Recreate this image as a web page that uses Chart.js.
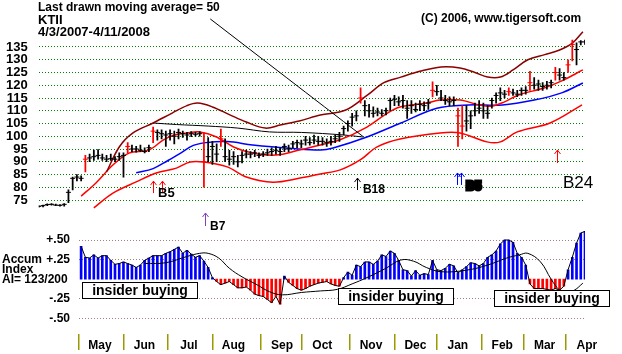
<!DOCTYPE html>
<html>
<head>
<meta charset="utf-8">
<script src="https://cdn.jsdelivr.net/npm/chart.js@4.4.1/dist/chart.umd.min.js"></script>
<style>
body { margin: 0; background: #fff; }
#wrap { position: relative; width: 622px; height: 354px; overflow: hidden; font-family: 'Liberation Sans', Arial, sans-serif; }
canvas { position: absolute; left: 0; top: 0; }
.t { position: absolute; font-weight: bold; color: #000; white-space: nowrap; }
.box { position: absolute; border: 1px solid #000; background: #fff; font-weight: bold; font-size: 14px;
       text-align: center; box-sizing: border-box; line-height: 15px; }
</style>
</head>
<body>
<div id="wrap">
  <canvas id="price" width="622" height="354"></canvas>
  <canvas id="accum" width="622" height="354"></canvas>

  <div class="t" style="left:38px;top:1px;font-size:12px;line-height:12px;">Last drawn moving average= 50</div>
  <div class="t" style="left:38px;top:13px;font-size:13px;line-height:13px;">KTII</div>
  <div class="t" style="left:38px;top:25px;font-size:13px;line-height:13px;">4/3/2007-4/11/2008</div>
  <div class="t" style="left:421px;top:12px;font-size:12px;line-height:12px;">(C) 2006, www.tigersoft.com</div>

  <div class="t" style="left:2px;top:254px;font-size:12px;line-height:10px;">Accum<br>Index<br>AI= 123/200</div>

  <div class="box" style="left:82px;top:282px;width:116px;height:17px;">insider buying</div>
  <div class="box" style="left:338px;top:288px;width:116px;height:17px;">insider buying</div>
  <div class="box" style="left:494px;top:290px;width:116px;height:17px;">insider buying</div>
</div>

<script>
// trading days counted from 4/3/2007, bars read every second day
const firstDay = 0;
const dayStep = 2;

const barHigh = [
  72.8, 73.0, 73.5, 73.6, 73.4, 73.2, 73.6, 79.0, 84.0, 85.0,
  84.5, 92.5, 93.0, 94.6, 94.8, 93.0, 92.5, 93.0, 92.0, 93.5,
  93.5, 97.5, 96.5, 96.0, 96.5, 95.5, 96.5, 103.6, 102.5, 102.5,
  102.0, 102.5, 102.0, 102.8, 102.0, 101.5, 101.8, 101.5, 101.8, 101.3,
  99.5, 98.0, 97.0, 102.8, 99.0, 94.5, 94.0, 92.5, 94.0, 94.6,
  94.0, 94.5, 93.5, 94.0, 95.0, 95.5, 96.0, 95.5, 97.0, 96.5,
  98.0, 98.5, 98.5, 100.0, 99.5, 100.5, 100.0, 99.5, 99.0, 100.0,
  100.5, 101.5, 104.0, 106.0, 109.0, 110.0, 119.0, 114.0, 112.5, 111.5,
  111.0, 110.5, 111.0, 115.0, 116.0, 115.5, 116.0, 114.0, 114.0, 113.0,
  114.0, 113.5, 114.5, 121.3, 120.0, 118.0, 116.0, 115.5, 115.5, 111.0,
  112.0, 112.0, 110.0, 113.0, 114.0, 113.0, 112.0, 115.0, 117.0, 119.0,
  118.0, 119.0, 118.5, 118.0, 119.0, 119.5, 125.5, 123.0, 122.0, 121.0,
  121.5, 122.0, 127.0, 126.5, 125.0, 130.0, 137.7, 136.6, 137.5, 137.7
];
const barLow = [
  72.2, 72.3, 72.8, 73.0, 72.8, 72.6, 72.6, 74.0, 79.0, 82.5,
  82.5, 86.0, 90.0, 90.5, 91.0, 90.5, 90.0, 90.5, 90.0, 90.5,
  84.0, 93.5, 94.0, 93.8, 94.0, 93.5, 94.0, 97.5, 98.5, 99.0,
  96.0, 98.5, 97.0, 99.0, 99.5, 98.5, 99.8, 100.0, 100.0, 80.0,
  90.0, 89.0, 90.0, 96.0, 90.0, 88.7, 89.0, 88.0, 89.5, 91.5,
  91.5, 92.0, 91.5, 92.0, 92.5, 92.5, 93.0, 92.5, 94.0, 94.0,
  95.5, 95.5, 95.5, 96.5, 96.5, 97.0, 96.5, 96.5, 96.0, 96.5,
  97.5, 98.0, 100.5, 102.0, 104.0, 106.0, 113.0, 108.0, 107.5, 107.5,
  108.0, 108.0, 108.4, 110.0, 112.0, 112.0, 111.0, 107.0, 109.0, 109.5,
  110.0, 110.0, 110.5, 115.4, 116.0, 114.0, 112.5, 112.0, 112.0, 96.0,
  99.0, 102.0, 103.0, 108.0, 109.0, 107.0, 107.0, 111.0, 113.0, 114.0,
  115.0, 116.0, 116.0, 115.5, 116.0, 116.5, 118.0, 118.5, 118.0, 118.0,
  118.5, 119.0, 122.0, 122.0, 122.0, 125.0, 129.5, 128.0, 135.8, 136.0
];
const barClose = [
  72.5, 72.8, 73.2, 73.3, 73.0, 72.9, 73.3, 78.0, 83.5, 84.0,
  83.5, 91.0, 91.5, 92.0, 92.5, 91.5, 91.0, 91.2, 91.0, 92.0,
  92.5, 96.0, 95.0, 95.0, 94.5, 94.0, 95.5, 102.0, 101.5, 101.0,
  100.5, 101.0, 100.0, 101.5, 101.0, 100.5, 101.0, 100.8, 101.0, 90.0,
  92.0, 96.0, 93.0, 99.0, 92.0, 91.0, 92.0, 90.0, 92.5, 93.0,
  93.0, 93.5, 92.5, 93.0, 93.5, 94.0, 94.5, 94.0, 96.0, 95.0,
  97.0, 97.5, 97.0, 98.5, 97.5, 98.5, 98.0, 98.0, 97.5, 98.0,
  99.0, 100.0, 103.0, 105.0, 107.5, 108.0, 115.0, 112.0, 110.0, 109.0,
  109.5, 109.0, 110.0, 114.0, 114.5, 113.5, 114.0, 111.0, 112.0, 110.5,
  112.5, 112.0, 113.0, 118.0, 117.5, 115.0, 114.0, 113.5, 114.0, 108.0,
  104.0, 106.0, 108.0, 110.0, 111.0, 110.0, 109.0, 114.0, 116.0, 117.0,
  116.5, 117.5, 117.0, 116.5, 118.0, 118.0, 121.0, 120.0, 120.5, 119.5,
  120.0, 121.0, 125.0, 124.0, 123.0, 128.0, 136.0, 134.0, 137.0, 137.0
];
// days drawn in red
const redBarDays = [22, 42, 54, 78, 86, 152, 186, 198, 200, 222, 232, 244, 250, 252];

// bands and moving averages (day, price)
const upperBandDays = [32, 38, 44.5, 54, 63, 70, 75, 82, 90, 98, 107, 114, 123, 133, 145, 155, 163, 171, 180, 190, 199, 206, 212, 218, 224, 231, 239, 246, 252, 257];
const upperBand = [86, 95.8, 101.3, 105.2, 109.1, 112, 113, 111.5, 108.5, 105.6, 103.2, 104.4, 106, 108.3, 110.3, 116, 121, 123.2, 125.5, 127.2, 126.8, 125, 123.2, 123.2, 126, 130, 132, 133.8, 136.5, 141];

const ma21Days = [20, 27, 35, 42.6, 52, 58.7, 64, 70, 76, 84, 92, 101, 112, 123, 133, 142, 155, 164.5, 170.6, 183, 189.5, 199, 208, 214, 220, 226.6, 239, 247, 257];
const ma21 = [76.5, 81.7, 88.7, 93.4, 94.6, 98.5, 100.5, 101.3, 101.7, 99.7, 95.8, 93.4, 92.6, 94.6, 96.6, 98.5, 103.6, 109, 111.5, 113, 114.2, 114.2, 112.3, 111.8, 113.5, 116.2, 119, 121.7, 126];

const ma50Days = [46, 54, 61, 67, 73, 79, 89, 101, 120, 133, 139, 155, 171, 188, 203, 219, 234, 247, 257];
const ma50 = [85.7, 87.3, 90.5, 93.4, 96.4, 97.5, 97.9, 96.6, 95.2, 94.6, 95.4, 99.7, 105.2, 111, 112.3, 112.3, 114.2, 117, 120.9];

const lowerBandDays = [26, 35, 46, 55.5, 65, 71.4, 78, 89, 98, 110.6, 123.4, 133, 142.4, 151.8, 159.8, 170.6, 189.5, 199, 211.7, 218, 226, 241.5, 256.6];
const lowerBand = [71.9, 77.7, 82.1, 85.6, 87.5, 89.9, 89.9, 88, 84, 82, 83.6, 85.2, 86.8, 90.7, 95.8, 98.9, 101.3, 101.3, 97.8, 97.8, 101.7, 105.2, 112.3];

const flatLineDays = [54, 65, 80, 94, 109, 124, 144, 153];
const flatLine = [105.2, 104.6, 104, 103.2, 101.7, 101.5, 100.5, 99.7];

const pointerDays = [81, 153.3];
const pointerPrice = [146, 99.8];

// signal arrows and labels
const arrowDays = [53.8, 58, 78.5, 150.3, 197.6, 199.4, 244.8];
const arrowBase = [77.7, 77.7, 64.8, 78.9, 80.9, 80.9, 89.5];
const arrowTip = [82.4, 82.4, 69.9, 83.6, 85.6, 85.6, 94.6];
const signalText = ['B5', 'B7', 'B18', 'B5', 'B24'];
const signalDays = [56.3, 80.9, 153.1, 201.8, 247.6];
const signalPrice = [77.7, 64.4, 78.9, 80.1, 81.7];

const priceTicks = [75, 80, 85, 90, 95, 100, 105, 110, 115, 120, 125, 130, 135];

// accumulation index, every second day from day 20
const accumFirstDay = 20;
const accum = [
  0.42, 0.28, 0.27, 0.31, 0.27, 0.30, 0.30, 0.24, 0.19, 0.20,
  0.22, 0.20, 0.18, 0.15, 0.18, 0.24, 0.27, 0.30, 0.30, 0.30,
  0.33, 0.35, 0.38, 0.41, 0.33, 0.37, 0.32, 0.28, 0.30, 0.23,
  0.15, 0.02, -0.03, -0.07, -0.05, -0.03, -0.07, -0.11, -0.11, -0.10,
  -0.14, -0.19, -0.21, -0.22, -0.26, -0.30, -0.22, -0.32, 0.04, -0.04,
  -0.08, -0.12, -0.14, -0.12, -0.09, -0.07, -0.05, -0.04, -0.03, -0.06,
  -0.08, -0.09, 0.02, 0.09, 0.05, 0.18, 0.16, 0.22, 0.22, 0.19,
  0.23, 0.31, 0.29, 0.36, 0.33, 0.24, 0.12, 0.11, 0.04, 0.11,
  0.05, 0.07, 0.06, 0.24, 0.12, 0.11, 0.14, 0.19, 0.17, 0.08,
  0.12, 0.16, 0.21, 0.20, 0.17, 0.20, 0.28, 0.31, 0.36, 0.45,
  0.50, 0.50, 0.47, 0.33, 0.28, 0.18, -0.06, -0.12, -0.12, -0.12,
  -0.13, -0.14, -0.12, -0.14, -0.09, 0.12, 0.28, 0.46, 0.59, 0.61
];
const accumMaDays = [50, 60, 70, 76, 80, 85, 90, 96, 103, 109, 115, 124, 133, 141, 148, 155, 164, 171, 177, 183, 190, 202, 212, 221, 227, 231, 237, 242, 246, 249, 253, 257];
const accumMa = [0.20, 0.21, 0.29, 0.33, 0.33, 0.27, 0.14, 0.03, -0.07, -0.16, -0.20, -0.17, -0.15, -0.13, -0.06, 0.02, 0.14, 0.245, 0.23, 0.15, 0.095, 0.115, 0.18, 0.27, 0.31, 0.33, 0.22, 0.0, -0.14, -0.17, -0.14, -0.05];
const accumTicks = [-0.5, -0.25, 0.25, 0.5];
const accumTickLabels = ['-.50', '-.25', '+.25', '+.50'];

const monthStarts = [19, 40, 61, 82, 105, 124, 147, 168, 188, 209, 229, 249];
const monthNames = ['May', 'Jun', 'Jul', 'Aug', 'Sep', 'Oct', 'Nov', 'Dec', 'Jan', 'Feb', 'Mar', 'Apr'];

// ---------------------------------------------------------------

Chart.defaults.font.family = "'Liberation Sans', Arial, sans-serif";
Chart.defaults.color = '#000';

const pts = (xs, ys) => xs.map((x, i) => ({ x: x, y: ys[i] }));
const barDay = i => firstDay + i * dayStep;

const arrowColors = ['#ff0000', '#ff0000', '#8040c0', '#000000', '#0000ff', '#0000ff', '#ff0000'];
const signalFonts = ['bold 13px', 'bold 12px', 'bold 12px', 'bold 12px', '17px'];

const signalPlugin = {
  id: 'signals',
  afterDatasetsDraw(chart) {
    const { ctx, scales } = chart;
    const x = scales.x, y = scales.y;
    ctx.save();
    ctx.lineWidth = 1;
    arrowDays.forEach((d, i) => {
      const px = Math.round(x.getPixelForValue(d)) + 0.5;
      const yb = y.getPixelForValue(arrowBase[i]);
      const yt = y.getPixelForValue(arrowTip[i]);
      ctx.strokeStyle = arrowColors[i];
      ctx.beginPath();
      ctx.moveTo(px, yb);
      ctx.lineTo(px, yt);
      ctx.moveTo(px - 3, yt + 4);
      ctx.lineTo(px, yt);
      ctx.lineTo(px + 3, yt + 4);
      ctx.stroke();
    });
    ctx.textBaseline = 'middle';
    ctx.textAlign = 'left';
    signalText.forEach((s, i) => {
      const px = x.getPixelForValue(signalDays[i]);
      const py = y.getPixelForValue(signalPrice[i]);
      ctx.font = signalFonts[i] + " 'Liberation Sans', Arial, sans-serif";
      ctx.fillStyle = '#000';
      if (i === 3) {
        ctx.strokeStyle = '#000';
        ctx.lineWidth = 3;
        ctx.strokeText(s, px, py);
      }
      ctx.fillText(s, px, py);
    });
    ctx.restore();
  }
};

const lineSet = (data, color, width) => ({
  type: 'line',
  data: data,
  borderColor: color,
  borderWidth: width,
  pointRadius: 0,
  tension: 0.35,
  clip: false
});

new Chart(document.getElementById('price'), {
  type: 'bar',
  data: {
    datasets: [
      {
        type: 'bar',
        data: barHigh.map((h, i) => ({ x: barDay(i), y: [barLow[i], h] })),
        backgroundColor: barHigh.map((h, i) => redBarDays.includes(barDay(i)) ? '#ff0000' : '#000000'),
        barThickness: 1.1,
        borderWidth: 0
      },
      {
        type: 'line',
        data: barClose.map((c, i) => ({ x: barDay(i), y: c })),
        showLine: false,
        pointStyle: 'line',
        pointRadius: 2.5,
        pointBorderWidth: 1,
        pointBorderColor: barClose.map((c, i) => redBarDays.includes(barDay(i)) ? '#ff0000' : '#000000')
      },
      lineSet(pts(pointerDays, pointerPrice), '#000000', 1),
      lineSet(pts(upperBandDays, upperBand), '#8b0000', 1.5),
      lineSet(pts(ma21Days, ma21), '#ff0000', 1.5),
      lineSet(pts(ma50Days, ma50), '#0000ff', 1.5),
      lineSet(pts(lowerBandDays, lowerBand), '#ff0000', 1.5),
      lineSet(pts(flatLineDays, flatLine), '#000000', 1)
    ]
  },
  options: {
    responsive: false,
    animation: false,
    layout: { padding: { left: 0, right: 37, top: 34.25, bottom: 131.05 } },
    plugins: { legend: { display: false }, tooltip: { enabled: false } },
    scales: {
      x: { type: 'linear', min: 0, max: 258, display: false, offset: false, grid: { offset: false } },
      y: {
        min: 66, max: 140,
        afterBuildTicks: s => { s.ticks = priceTicks.map(v => ({ value: v })); },
        afterFit: s => { s.width = 38.8; },
        grid: { color: '#008000', drawTicks: false },
        border: { display: false, dash: [1, 2] },
        ticks: { autoSkip: false, padding: 11, font: { size: 13, weight: 'bold' }, callback: v => String(v) }
      }
    }
  },
  plugins: [signalPlugin]
});

new Chart(document.getElementById('accum'), {
  type: 'bar',
  data: {
    datasets: [
      {
        type: 'line',
        data: pts(accumMaDays, accumMa),
        borderColor: '#000',
        borderWidth: 1,
        pointRadius: 0,
        tension: 0.4
      },
      {
        type: 'line',
        data: accum.map((v, i) => ({ x: accumFirstDay + i * dayStep, y: v })),
        borderColor: '#000',
        borderWidth: 1,
        pointRadius: 0,
        tension: 0
      },
      {
        type: 'bar',
        data: accum.map((v, i) => ({ x: accumFirstDay + i * dayStep, y: v })),
        backgroundColor: accum.map(v => v >= 0 ? '#0000ff' : '#ff0000'),
        barThickness: 2,
        borderWidth: 0
      }
    ]
  },
  options: {
    responsive: false,
    animation: false,
    layout: { padding: { left: 0, right: 37, top: 227.5, bottom: 0 } },
    plugins: { legend: { display: false }, tooltip: { enabled: false } },
    scales: {
      x: {
        type: 'linear', min: 19, max: 258, offset: false,
        afterBuildTicks: s => { s.ticks = monthStarts.map(v => ({ value: v })); },
        afterFit: s => { s.height = 20; },
        grid: { drawOnChartArea: false, color: '#9a9a00', lineWidth: 1.5, tickLength: 16, offset: false },
        border: { display: false },
        ticks: {
          autoSkip: false, maxRotation: 0, labelOffset: 21, padding: -12,
          font: { size: 12, weight: 'bold' },
          callback: (v, i) => monthNames[i]
        }
      },
      y: {
        min: -0.7, max: 0.66,
        afterBuildTicks: s => { s.ticks = accumTicks.map(v => ({ value: v })); },
        afterFit: s => { s.width = 79; },
        grid: { color: '#a08080', drawTicks: false },
        border: { display: false, dash: [1, 2] },
        ticks: { autoSkip: false, padding: 9, font: { size: 12, weight: 'bold' }, callback: (v, i) => accumTickLabels[i] }
      }
    }
  }
});
</script>
</body>
</html>
